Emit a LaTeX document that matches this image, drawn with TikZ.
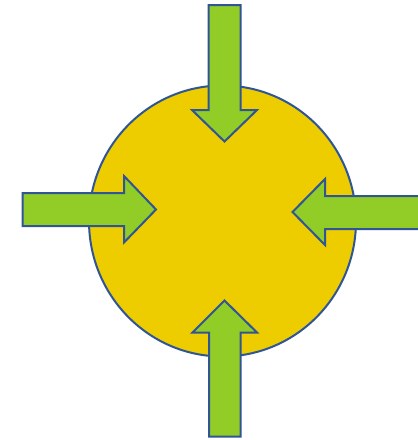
\documentclass[tikz,border=0pt]{standalone}
\definecolor{sunyellow}{RGB}{237,204,0}
\definecolor{arrowgreen}{RGB}{146,204,38}
\definecolor{edgeblue}{RGB}{47,85,151}
\begin{document}
\begin{tikzpicture}[x=1pt,y=-1pt,
  sun/.style={fill=sunyellow,draw=edgeblue,line width=2pt},
  arrowshape/.style={fill=arrowgreen,draw=edgeblue,line width=2pt,line join=miter}]
\clip (0,0) rectangle (418,440);
\fill[white] (0,0) rectangle (418,440);
% circle
\draw[sun] (222.5,221) ellipse [x radius=133.5, y radius=135.5];
% top arrow (pointing down)
\draw[arrowshape] (208.5,5) -- (240.5,5) -- (240.5,110) -- (257,110) -- (224.5,141.5) -- (192,110) -- (208.5,110) -- cycle;
% bottom arrow (pointing up)
\draw[arrowshape] (209,436.5) -- (240.5,436.5) -- (240.5,332.5) -- (257,332.5) -- (224.5,300.5) -- (192.5,332.5) -- (209,332.5) -- cycle;
% left arrow (pointing right)
\draw[arrowshape] (22.5,193) -- (124,193) -- (124,176) -- (156,209.5) -- (124,242.5) -- (124,226) -- (22.5,226) -- cycle;
% right arrow (pointing left)
\draw[arrowshape] (425,196) -- (325,196) -- (325,179) -- (292.5,212) -- (325,245) -- (325,229) -- (425,229) -- cycle;
\end{tikzpicture}
\end{document}
